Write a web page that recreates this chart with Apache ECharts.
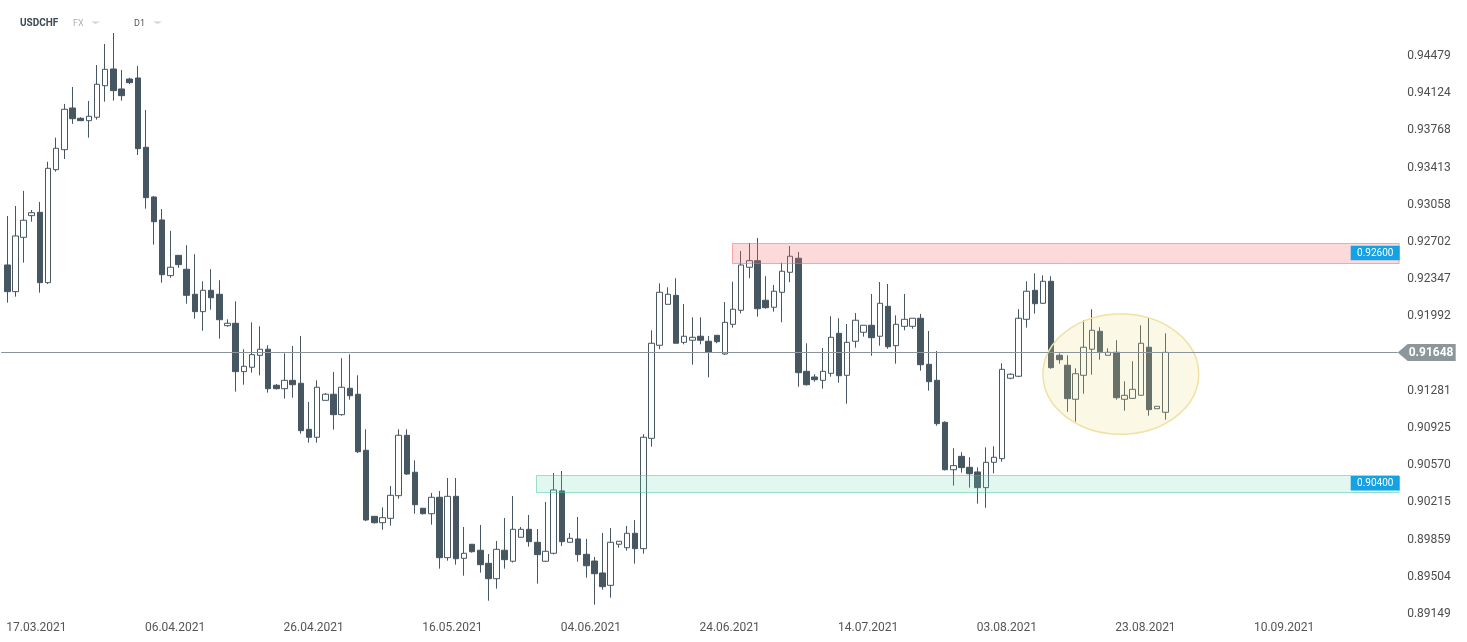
<!DOCTYPE html>
<html>
<head>
<meta charset="utf-8">
<script src="https://cdn.jsdelivr.net/npm/echarts@6/dist/echarts.min.js"></script>
<style>
html,body{margin:0;padding:0;background:#ffffff;}
#c{width:1467px;height:642px;}
</style>
</head>
<body>
<div id="c"></div>
<script>
// ---------------- DATA ----------------
const symbolName = 'USDCHF';
const marketTag = 'FX';
const timeframe = 'D1';

const opens = [0.92483,0.92228,0.92747,0.92954,0.92986,0.92314,0.93393,0.93584,0.93982,0.93884,
0.93861,0.93894,0.94195,0.94355,0.94164,0.94259,0.94269,0.93607,0.93132,0.92913,
0.92381,0.92575,0.92442,0.92203,0.92037,0.92241,0.92203,0.91903,0.91926,0.91464,
0.91506,0.91620,0.91678,0.91334,0.91301,0.91381,0.91353,0.90913,0.90837,0.91190,
0.91248,0.91053,0.91305,0.91248,0.90713,0.90082,0.90021,0.90063,0.90279,0.90856,
0.90503,0.90159,0.90107,0.90264,0.89687,0.90273,0.89681,0.89815,0.89758,0.89633,
0.89486,0.89758,0.89653,0.89882,0.89958,0.89834,0.89653,0.89729,0.90325,0.89834,
0.89866,0.89719,0.89655,0.89541,0.89423,0.89815,0.89782,0.89920,0.89773,0.90827,
0.91716,0.92107,0.92193,0.91744,0.91764,0.91802,0.91754,0.91811,0.91633,0.91916,
0.92050,0.92461,0.92524,0.92146,0.92079,0.92222,0.92413,0.92547,0.91467,0.91413,
0.91381,0.91448,0.91830,0.91429,0.91754,0.91840,0.91907,0.91802,0.92088,0.91712,
0.91897,0.91897,0.91974,0.91534,0.91381,0.90980,0.90527,0.90655,0.90550,0.90506,
0.90356,0.90598,0.90633,0.91401,0.91420,0.91964,0.92241,0.92117,0.92327,0.91620,
0.91525,0.91200,0.91429,0.91678,0.91849,0.91620,0.91649,0.91200,0.91209,0.91238,
0.91697,0.91110,0.91076];

const closes = [0.92228,0.92760,0.92910,0.92982,0.92314,0.93406,0.93597,0.93970,0.93880,0.93861,
0.93903,0.94209,0.94352,0.94148,0.94100,0.94224,0.93594,0.93126,0.92896,0.92390,
0.92461,0.92486,0.92193,0.92037,0.92241,0.92170,0.91960,0.91926,0.91464,0.91515,
0.91626,0.91678,0.91301,0.91301,0.91381,0.91339,0.90900,0.90837,0.91315,0.91248,
0.91053,0.91315,0.91234,0.90699,0.90047,0.90021,0.90069,0.90283,0.90856,0.90486,
0.90193,0.90107,0.90264,0.89687,0.90273,0.89677,0.89729,0.89744,0.89620,0.89486,
0.89767,0.89668,0.89958,0.89958,0.89840,0.89716,0.89748,0.90334,0.89840,0.89872,
0.89716,0.89610,0.89534,0.89410,0.89834,0.89844,0.89920,0.89773,0.90837,0.91735,
0.92222,0.92203,0.91735,0.91802,0.91792,0.91764,0.91647,0.91750,0.91935,0.92060,
0.92483,0.92524,0.92065,0.92075,0.92232,0.92423,0.92566,0.91454,0.91339,0.91387,
0.91467,0.91792,0.91425,0.91744,0.91955,0.91907,0.91788,0.92117,0.91702,0.91916,
0.91964,0.91974,0.91530,0.91368,0.90967,0.90527,0.90566,0.90547,0.90489,0.90356,
0.90598,0.90646,0.91486,0.91439,0.91974,0.92232,0.92113,0.92327,0.91502,0.91578,
0.91206,0.91444,0.91697,0.91859,0.91655,0.91649,0.91215,0.91238,0.91295,0.91735,
0.91101,0.91133,0.91648];

const lows = [0.92123,0.92180,0.92505,0.92896,0.92218,0.92301,0.93374,0.93495,0.93830,0.93858,
0.93699,0.93871,0.94043,0.94052,0.94052,0.94212,0.93533,0.93021,0.92677,0.92314,
0.92361,0.92457,0.92113,0.91970,0.91855,0.92056,0.91779,0.91893,0.91273,0.91339,
0.91454,0.91429,0.91263,0.91294,0.91206,0.91215,0.90871,0.90785,0.90785,0.91190,
0.90910,0.91043,0.91196,0.90687,0.90037,0.90012,0.89954,0.89993,0.90250,0.90477,
0.90107,0.90099,0.90002,0.89582,0.89658,0.89620,0.89515,0.89735,0.89544,0.89276,
0.89391,0.89582,0.89641,0.89882,0.89792,0.89439,0.89646,0.89718,0.89799,0.89834,
0.89649,0.89496,0.89238,0.89381,0.89305,0.89782,0.89754,0.89630,0.89725,0.90747,
0.91678,0.92107,0.91735,0.91725,0.91530,0.91725,0.91410,0.91735,0.91623,0.91884,
0.92021,0.92356,0.91989,0.92065,0.92037,0.91935,0.92318,0.91320,0.91332,0.91368,
0.91301,0.91416,0.91359,0.91158,0.91693,0.91798,0.91616,0.91712,0.91683,0.91540,
0.91859,0.91874,0.91473,0.91282,0.90948,0.90520,0.90375,0.90499,0.90356,0.90203,
0.90164,0.90493,0.90604,0.91391,0.91413,0.91884,0.92018,0.92110,0.91492,0.91540,
0.91081,0.90986,0.91253,0.91435,0.91578,0.91620,0.91196,0.91091,0.91203,0.91238,
0.91043,0.91110,0.91005];

const highs = [0.92951,0.93046,0.93190,0.93008,0.93085,0.93469,0.93699,0.94021,0.94183,0.93894,
0.94049,0.94393,0.94594,0.94699,0.94345,0.94272,0.94384,0.93963,0.93142,0.93018,
0.92808,0.92575,0.92671,0.92585,0.92327,0.92442,0.92337,0.91964,0.92136,0.91678,
0.91935,0.91897,0.91716,0.91346,0.91639,0.91709,0.91805,0.91174,0.91381,0.91260,
0.91461,0.91592,0.91630,0.91429,0.90913,0.90082,0.90168,0.90372,0.90913,0.90913,
0.90617,0.90159,0.90305,0.90324,0.90448,0.90448,0.89980,0.89815,0.89999,0.89722,
0.89846,0.90066,0.90276,0.89980,0.90095,0.89961,0.90219,0.90496,0.90515,0.89923,
0.90076,0.89866,0.89694,0.89923,0.89971,0.89844,0.89990,0.90047,0.90866,0.91859,
0.92308,0.92270,0.92356,0.92110,0.91983,0.91983,0.91805,0.91811,0.92129,0.92323,
0.92616,0.92693,0.92741,0.92375,0.92292,0.92505,0.92664,0.92607,0.91735,0.91439,
0.91690,0.91993,0.91974,0.91919,0.92024,0.91907,0.92206,0.92320,0.92301,0.92002,
0.92206,0.91974,0.92015,0.91852,0.91661,0.90990,0.90732,0.90694,0.90646,0.90550,
0.90741,0.90751,0.91544,0.91448,0.92060,0.92327,0.92403,0.92384,0.92375,0.91639,
0.91620,0.91496,0.91955,0.92060,0.91888,0.91687,0.91764,0.91372,0.91563,0.91907,
0.91983,0.91133,0.91830];

const priceTicks = ['0.89149','0.89504','0.89859','0.90215','0.90570','0.90925','0.91281','0.91636',
  '0.91992','0.92347','0.92702','0.93058','0.93413','0.93768','0.94124','0.94479'];
const dateTicks = ['17.03.2021','06.04.2021','26.04.2021','16.05.2021','04.06.2021',
  '24.06.2021','14.07.2021','03.08.2021','23.08.2021','10.09.2021'];

const lastPrice = 0.91648;
const zoneLevels = [0.92600, 0.90400];
const zoneLows   = [0.92510, 0.90314];
const zoneHighs  = [0.92697, 0.90474];
const zoneStarts = [89, 65];
const highlightX = [127.0, 146.1];
const highlightY = [0.90866, 0.92015];

// ---------------- LAYOUT / SCALE ----------------
const N_CATS = 171;
const DATE_FIRST = 4, DATE_EVERY = 17;
const base = parseFloat(priceTicks[0]);
const step = (parseFloat(priceTicks[priceTicks.length - 1]) - base) / (priceTicks.length - 1);
const t = v => (v - base) / step;

const categories = Array.from({length: N_CATS}, (_, i) => String(i));
const candleData = opens.map((o, i) => [t(o), t(closes[i]), t(lows[i]), t(highs[i])]);

const DARK = '#465761';
const zoneStyles = [
  {fill: 'rgba(243,107,107,0.25)', stroke: 'rgba(240,110,110,0.55)'},
  {fill: 'rgba(105,215,175,0.2)', stroke: 'rgba(60,200,150,0.5)'}
];

const chart = echarts.init(document.getElementById('c'), null, {renderer: 'canvas'});

const option = {
  animation: false,
  backgroundColor: '#ffffff',
  grid: {left: 3.2, top: 0, width: 1394.5, height: 614, containLabel: false},
  xAxis: {
    type: 'category',
    data: categories,
    boundaryGap: true,
    axisLine: {show: false},
    axisTick: {show: false},
    splitLine: {show: false},
    axisLabel: {
      interval: (idx) => idx >= DATE_FIRST && (idx - DATE_FIRST) % DATE_EVERY === 0,
      formatter: (val) => {
        const i = Number(val);
        const k = (i - DATE_FIRST) / DATE_EVERY;
        return dateTicks[k] || '';
      },
      color: '#555555',
      fontSize: 12,
      fontFamily: 'Roboto',
      margin: 8,
      padding: [0, 7, 0, 0]
    }
  },
  yAxis: {
    type: 'value',
    position: 'right',
    min: 0,
    max: 16.505,
    interval: 1,
    scale: false,
    axisLine: {show: false},
    axisTick: {show: false},
    splitLine: {show: false},
    axisLabel: {
      formatter: (v) => (Number.isInteger(v) && priceTicks[v]) ? priceTicks[v] : '',
      color: '#4d4d4d',
      fontSize: 12,
      fontFamily: 'Roboto',
      margin: 9.5,
      showMaxLabel: false
    }
  },
  graphic: [
    {type: 'text', x: 20, y: 23, style: {text: symbolName, font: 'bold 10px Roboto', fill: '#3b4a55', verticalAlign: 'middle'}},
    {type: 'text', x: 73, y: 23.5, style: {text: marketTag, font: '9px Roboto', fill: '#a9b2b8', verticalAlign: 'middle'}},
    {type: 'polygon', shape: {points: [[91, 21.5], [100, 21.5], [95.5, 24]]}, style: {fill: '#cfd4d7'}},
    {type: 'text', x: 134, y: 23.5, style: {text: timeframe, font: '9px Roboto', fill: '#555555', verticalAlign: 'middle'}},
    {type: 'polygon', shape: {points: [[153, 21.5], [162, 21.5], [157.5, 24]]}, style: {fill: '#cfd4d7'}}
  ],
  series: [
    {
      type: 'candlestick',
      data: candleData,
      barWidth: 6,
      z: 2,
      itemStyle: {
        color: '#ffffff',
        color0: DARK,
        borderColor: DARK,
        borderColor0: DARK,
        borderWidth: 1
      }
    },
    {
      // support / resistance zones
      type: 'custom',
      z: 3,
      clip: false,
      encode: {x: 0, y: 1},
      data: zoneLevels.map((lv, i) => [zoneStarts[i], t(zoneLows[i]), t(zoneHighs[i]), t(lv)]),
      renderItem: (params, api) => {
        const cs = params.coordSys;
        const i = params.dataIndex;
        const st = zoneStyles[i];
        const pTop = api.coord([api.value(0), api.value(2)]);
        const pBot = api.coord([api.value(0), api.value(1)]);
        const ym = api.coord([api.value(0), api.value(3)])[1];
        const xr = cs.x + cs.width + 2;
        return {
          type: 'group',
          children: [
            {type: 'rect', shape: {x: Math.round(pTop[0]) - 0.5, y: Math.round(pTop[1]) + 0.5, width: xr - pTop[0], height: Math.round(pBot[1] - pTop[1])},
             style: {fill: st.fill, stroke: st.stroke, lineWidth: 1}},
            {type: 'rect', shape: {x: xr - 49, y: ym - 7, width: 49, height: 14.5}, style: {fill: '#14a2e6'}},
            {type: 'text', style: {text: zoneLevels[i].toFixed(5), x: xr - 24.5, y: ym + 0.5, align: 'center', verticalAlign: 'middle',
              font: '10px Roboto', fill: '#ffffff'}}
          ]
        };
      }
    },
    {
      // highlighted consolidation ellipse
      type: 'custom',
      z: 4,
      encode: {x: 0, y: 2},
      data: [[highlightX[0], highlightX[1], t(highlightY[0]), t(highlightY[1])]],
      renderItem: (params, api) => {
        const bw = api.size([1, 0])[0];
        const px = (v) => {
          const f = Math.floor(v);
          return api.coord([f, api.value(2)])[0] + (v - f) * bw;
        };
        const x0 = px(api.value(0)), x1 = px(api.value(1));
        const y0 = api.coord([0, api.value(3)])[1];
        const y1 = api.coord([0, api.value(2)])[1];
        return {
          type: 'ellipse',
          shape: {cx: (x0 + x1) / 2, cy: (y0 + y1) / 2, rx: (x1 - x0) / 2, ry: (y1 - y0) / 2},
          style: {fill: 'rgba(235,220,130,0.2)', stroke: '#efe2a2', lineWidth: 1.5}
        };
      }
    },
    {
      // last price line and tag
      type: 'custom',
      z: 5,
      clip: false,
      encode: {x: 0, y: 1},
      data: [[0, t(lastPrice)]],
      renderItem: (params, api) => {
        const cs = params.coordSys;
        const y = Math.round(api.coord([0, api.value(1)])[1]) + 0.5;
        const xr = cs.x + cs.width;
        return {
          type: 'group',
          children: [
            {type: 'line', shape: {x1: cs.x - 2, y1: y, x2: xr, y2: y}, style: {stroke: '#8a959b', lineWidth: 1}},
            {type: 'polygon', shape: {points: [[xr, y], [xr + 10, y - 8.5], [xr + 58, y - 8.5], [xr + 58, y + 8.5], [xr + 10, y + 8.5]]},
             style: {fill: '#8c969b'}},
            {type: 'text', style: {text: lastPrice.toFixed(5), x: xr + 11, y: y + 0.5, verticalAlign: 'middle',
              font: 'bold 12px Roboto', fill: '#ffffff'}}
          ]
        };
      }
    }
  ]
};

chart.setOption(option);
</script>
</body>
</html>
